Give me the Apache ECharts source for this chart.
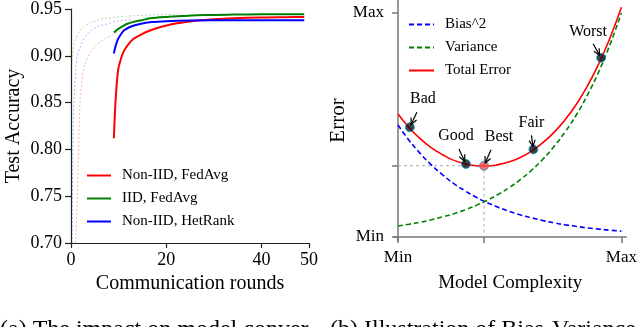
<!DOCTYPE html>
<html>
<head>
<meta charset="utf-8">
<script src="https://cdn.jsdelivr.net/npm/echarts@6/dist/echarts.min.js"></script>
<style>
html, body { margin: 0; padding: 0; background: #fff; }
#chart { width: 640px; height: 327px; }
</style>
</head>
<body>
<div id="chart"></div>
<script>
// (a) test accuracy vs communication rounds, [round, accuracy]
const nonIidFedAvg = [[9.0, 0.812], [9.4, 0.855], [9.9, 0.885], [10.5, 0.897], [11.1, 0.905], [12, 0.912], [13.1, 0.918], [14.8, 0.923], [16.6, 0.927], [19, 0.931], [21.4, 0.934], [24, 0.936], [27, 0.938], [30, 0.939], [34, 0.940], [40, 0.941], [45, 0.9413], [49, 0.9415]];
const iidFedAvg = [[9.0, 0.925], [10, 0.929], [11, 0.932], [11.7, 0.934], [13, 0.936], [14.8, 0.938], [16.6, 0.940], [20, 0.9415], [23.5, 0.9425], [28, 0.9435], [34, 0.944], [40, 0.9443], [49, 0.9445]];
const nonIidHetRank = [[9.0, 0.9025], [9.4, 0.911], [9.9, 0.918], [10.5, 0.923], [11.1, 0.927], [12.5, 0.931], [14.5, 0.934], [17, 0.936], [20, 0.937], [25, 0.9377], [35, 0.938], [49, 0.938]];
// faded curves from round 0
const nonIidFedAvgFaded = [[1.0, 0.70], [1.5, 0.78], [1.9, 0.851], [2.3, 0.872], [2.7, 0.886], [3.3, 0.896], [4.1, 0.904], [5, 0.910], [6.2, 0.915], [7.4, 0.919], [8.6, 0.922], [10, 0.926], [12, 0.930]];
const iidFedAvgFaded = [[0.05, 0.886], [0.3, 0.900], [0.6, 0.910], [1.0, 0.918], [1.8, 0.926], [2.7, 0.931], [4, 0.935], [5.5, 0.938], [7, 0.940], [9, 0.941], [12, 0.9425], [16, 0.9435], [22, 0.944]];
const nonIidHetRankFaded = [[0.2, 0.70], [0.35, 0.78], [0.6, 0.85], [1.0, 0.884], [1.3, 0.899], [2, 0.910], [2.7, 0.918], [3.8, 0.925], [4.8, 0.929], [6, 0.932], [7.6, 0.934], [9.6, 0.937], [13, 0.938]];
const roundTicks = [0, 20, 40, 50];

// (b) bias-variance illustration (0 = Min, 1 = Max)
const complexity = [0, 0.05, 0.10, 0.15, 0.20, 0.25, 0.30, 0.35, 0.40, 0.45, 0.50, 0.55, 0.60, 0.65, 0.70, 0.75, 0.80, 0.85, 0.90, 0.95, 1.00];
const bias2 = [0.500, 0.431, 0.372, 0.321, 0.277, 0.238, 0.206, 0.177, 0.153, 0.132, 0.114, 0.098, 0.085, 0.073, 0.063, 0.054, 0.047, 0.040, 0.035, 0.030, 0.026];
const variance = [0.049, 0.057, 0.066, 0.077, 0.090, 0.104, 0.121, 0.141, 0.164, 0.191, 0.222, 0.258, 0.300, 0.349, 0.406, 0.472, 0.548, 0.638, 0.741, 0.862, 1.000];
const totalError = [0.549, 0.488, 0.438, 0.398, 0.367, 0.342, 0.327, 0.318, 0.317, 0.323, 0.336, 0.356, 0.385, 0.422, 0.469, 0.526, 0.595, 0.678, 0.776, 0.892, 1.026];
const markedNames = ['Bad', 'Good', 'Best', 'Fair', 'Worst'];
const markedX = [0.053, 0.304, 0.385, 0.606, 0.909];
const markedY = [0.490, 0.326, 0.318, 0.391, 0.800];
const complexityTicks = [0, 0.385, 1];
const complexityLabels = ['Min', '', 'Max'];
const errorTicks = [0, 0.318, 1];
const errorLabels = ['Min', '', 'Max'];

const captionA = '(a) The impact on model conver-';
const captionB = '(b) Illustration of Bias-Variance';

const SERIF = '"Liberation Serif", "Times New Roman", serif';

// label / arrow offsets in pixels, relative to the marked point
const annotationStyle = {
    Bad: { text: [13, -28], tail: [7, -15] },
    Good: { text: [-10, -28], tail: [-7, -15] },
    Best: { text: [15, -29], tail: [7, -16] },
    Fair: { text: [-2, -27], tail: [-2, -14] },
    Worst: { text: [-13, -26], tail: [-8, -14] }
};

const chart = echarts.init(document.getElementById('chart'));

const zip = (xs, ys) => xs.map((x, i) => [x, ys[i]]);
const bestIdx = markedNames.indexOf('Best');
const bestX = markedX[bestIdx];
const bestY = markedY[bestIdx];

function tickLabel(ticks, labels) {
    return v => {
        const i = ticks.findIndex(t => Math.abs(t - v) < 1e-9);
        return i >= 0 ? labels[i] : '';
    };
}

function renderAnnotation(params, api) {
    const name = markedNames[params.dataIndex];
    const s = annotationStyle[name];
    const p = api.coord([api.value(0), api.value(1)]);
    const len = Math.hypot(s.tail[0], s.tail[1]);
    const ux = s.tail[0] / len, uy = s.tail[1] / len;
    const hx = p[0] + ux * 3, hy = p[1] + uy * 3;
    const wing = sign => {
        const c = Math.cos(sign * 0.45), sn = Math.sin(sign * 0.45);
        return [hx + 7 * (ux * c - uy * sn), hy + 7 * (ux * sn + uy * c)];
    };
    return {
        type: 'group',
        children: [
            { type: 'line', shape: { x1: p[0] + s.tail[0], y1: p[1] + s.tail[1], x2: hx, y2: hy }, style: { stroke: '#000', lineWidth: 1.2 } },
            { type: 'polyline', shape: { points: [wing(1), [hx, hy], wing(-1)] }, style: { stroke: '#000', lineWidth: 1.2, fill: 'none' } },
            { type: 'text', style: { text: name, x: p[0] + s.text[0], y: p[1] + s.text[1], align: 'center', verticalAlign: 'middle', fontSize: 16, fontFamily: SERIF, fill: '#000' } }
        ]
    };
}

const legendText = { fontSize: 15, fontFamily: SERIF, color: '#000', lineHeight: 15, padding: [0, 0, 0, 6] };

chart.setOption({
    animation: false,
    grid: [
        { left: 71, top: 7, width: 238, height: 236 },
        { left: 394, top: 0, width: 235, height: 241 }
    ],
    legend: [
        {
            data: ['Non-IID, FedAvg', 'IID, FedAvg', 'Non-IID, HetRank'],
            orient: 'vertical', left: 86, top: 168, padding: 0,
            itemWidth: 24, itemHeight: 15, itemGap: 8,
            itemStyle: { opacity: 0 },
            textStyle: legendText
        },
        {
            data: ['Bias^2', 'Variance', 'Total Error'],
            orient: 'vertical', left: 408, top: 17, padding: 0,
            itemWidth: 25, itemHeight: 15, itemGap: 8,
            itemStyle: { opacity: 0 },
            textStyle: legendText
        }
    ],
    xAxis: [
        {
            gridIndex: 0, type: 'value', min: 0, max: 50, interval: 10,
            name: 'Communication rounds', nameLocation: 'middle', nameGap: 30,
            nameTextStyle: { fontSize: 20, fontFamily: SERIF, color: '#000' },
            axisLine: { lineStyle: { color: '#222', width: 1.2 } },
            axisTick: { customValues: roundTicks, length: 5, lineStyle: { color: '#222', width: 1.2 } },
            axisLabel: { customValues: roundTicks, margin: 8, fontSize: 18, fontFamily: SERIF, color: '#000' },
            splitLine: { show: false }
        },
        {
            gridIndex: 1, type: 'value', min: -0.018, max: 1.022,
            name: 'Model Complexity', nameLocation: 'middle', nameGap: 33,
            nameTextStyle: { fontSize: 19, fontFamily: SERIF, color: '#000' },
            axisLine: { lineStyle: { color: '#777', width: 1.5 } },
            axisTick: { customValues: complexityTicks, length: 6, lineStyle: { color: '#777', width: 1.5 } },
            axisLabel: { customValues: complexityTicks, formatter: tickLabel(complexityTicks, complexityLabels), margin: 8, fontSize: 17, fontFamily: SERIF, color: '#000' },
            splitLine: { show: false }
        }
    ],
    yAxis: [
        {
            gridIndex: 0, type: 'value', min: 0.70, max: 0.95, interval: 0.05,
            name: 'Test Accuracy', nameLocation: 'middle', nameGap: 47,
            nameTextStyle: { fontSize: 20, fontFamily: SERIF, color: '#000' },
            axisLine: { show: true, lineStyle: { color: '#222', width: 1.2 } },
            axisTick: { show: true, length: 6, lineStyle: { color: '#222', width: 1.2 } },
            axisLabel: { formatter: v => v.toFixed(2), margin: 9, fontSize: 18, fontFamily: SERIF, color: '#000' },
            splitLine: { show: false }
        },
        {
            gridIndex: 1, type: 'value', min: -0.018, max: 1.058,
            name: 'Error', nameLocation: 'middle', nameGap: 45,
            nameTextStyle: { fontSize: 21, fontFamily: SERIF, color: '#000' },
            axisLine: { show: true, lineStyle: { color: '#777', width: 1.5 } },
            axisTick: { show: true, customValues: errorTicks, length: 6, lineStyle: { color: '#777', width: 1.5 } },
            axisLabel: { customValues: errorTicks, formatter: tickLabel(errorTicks, errorLabels), margin: 10, fontSize: 17, fontFamily: SERIF, color: '#000' },
            splitLine: { show: false }
        }
    ],
    series: [
        // faded curves
        { name: 'faded-red', type: 'line', xAxisIndex: 0, yAxisIndex: 0, data: nonIidFedAvgFaded, smooth: 0.3, showSymbol: false, lineStyle: { color: '#ff0000', width: 1, type: [2, 2], opacity: 0.3 } },
        { name: 'faded-green', type: 'line', xAxisIndex: 0, yAxisIndex: 0, data: iidFedAvgFaded, smooth: 0.3, showSymbol: false, lineStyle: { color: '#008000', width: 1, type: [2, 2], opacity: 0.3 } },
        { name: 'faded-blue', type: 'line', xAxisIndex: 0, yAxisIndex: 0, data: nonIidHetRankFaded, smooth: 0.3, showSymbol: false, lineStyle: { color: '#0000ff', width: 1, type: [2, 2], opacity: 0.3 } },
        // main curves
        { name: 'Non-IID, FedAvg', type: 'line', xAxisIndex: 0, yAxisIndex: 0, data: nonIidFedAvg, smooth: 0.3, symbol: 'none', color: '#ff0000', lineStyle: { width: 2 } },
        { name: 'IID, FedAvg', type: 'line', xAxisIndex: 0, yAxisIndex: 0, data: iidFedAvg, smooth: 0.3, symbol: 'none', color: '#008000', lineStyle: { width: 2 } },
        { name: 'Non-IID, HetRank', type: 'line', xAxisIndex: 0, yAxisIndex: 0, data: nonIidHetRank, smooth: 0.3, symbol: 'none', color: '#0000ff', lineStyle: { width: 2 } },

        // (b) guide lines to the best point
        { name: 'guide', type: 'line', xAxisIndex: 1, yAxisIndex: 1, data: [[0, bestY], [bestX, bestY], [bestX, 0]], symbol: 'none', lineStyle: { color: '#aaa', width: 1, type: [3, 3] }, z: 1 },
        { name: 'Bias^2', type: 'line', xAxisIndex: 1, yAxisIndex: 1, data: zip(complexity, bias2), smooth: true, symbol: 'none', color: '#0000ff', lineStyle: { width: 1.6, type: [5, 3] } },
        { name: 'Variance', type: 'line', xAxisIndex: 1, yAxisIndex: 1, data: zip(complexity, variance), smooth: true, symbol: 'none', color: '#008000', lineStyle: { width: 1.6, type: [5, 3] } },
        { name: 'Total Error', type: 'line', xAxisIndex: 1, yAxisIndex: 1, data: zip(complexity, totalError), smooth: true, symbol: 'none', color: '#ff0000', lineStyle: { width: 1.6 } },
        {
            name: 'marks', type: 'scatter', xAxisIndex: 1, yAxisIndex: 1,
            data: markedNames.map((n, i) => ({ name: n, value: [markedX[i], markedY[i]] })),
            symbol: 'circle', symbolSize: 9, z: 5,
            itemStyle: {
                color: p => p.name === 'Best' ? '#ff4444' : '#111',
                borderColor: p => p.name === 'Best' ? '#ff0000' : '#000',
                borderWidth: 1
            }
        },
        {
            name: 'annotations', type: 'custom', xAxisIndex: 1, yAxisIndex: 1,
            data: zip(markedX, markedY), renderItem: renderAnnotation, clip: false, z: 6
        }
    ],
    graphic: [
        { type: 'text', left: 0, top: 318, style: { text: captionA, fontSize: 24, fontFamily: SERIF, fill: '#000' } },
        { type: 'text', left: 330, top: 318, style: { text: captionB, fontSize: 24, fontFamily: SERIF, fill: '#000' } }
    ]
});

window.addEventListener('resize', () => chart.resize());
</script>
</body>
</html>
